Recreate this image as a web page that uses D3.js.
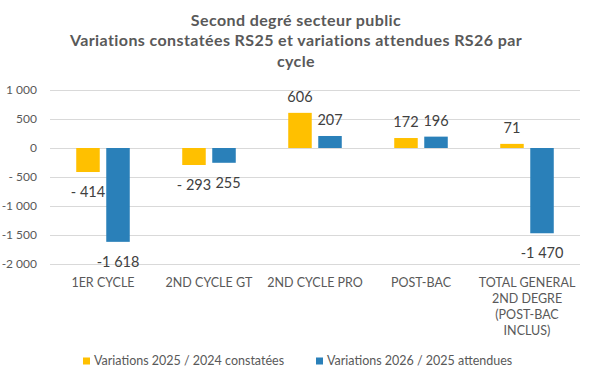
<!DOCTYPE html>
<html><head><meta charset="utf-8">
<script src="https://cdn.jsdelivr.net/npm/d3@7"></script>
<style>body{margin:0;background:#fff}svg{display:block}</style>
</head><body>
<script>
const categories = ["1ER CYCLE", "2ND CYCLE GT", "2ND CYCLE PRO", "POST-BAC", "TOTAL GENERAL 2ND DEGRE (POST-BAC INCLUS)"];
const categoryLines = [["1ER CYCLE"], ["2ND CYCLE GT"], ["2ND CYCLE PRO"], ["POST-BAC"], ["TOTAL GENERAL", "2ND DEGRE", "(POST-BAC", "INCLUS)"]];
const seriesNames = ["Variations 2025 / 2024 constatées", "Variations 2026 / 2025 attendues"];
const values2025 = [-414, -293, 606, 172, 71];
const values2026 = [-1618, -255, 207, 196, -1470];
const labels2025 = ["- 414", "- 293", "606", "172", "71"];
const labels2026 = ["-1 618", "255", "207", "196", "-1 470"];
const yTicks = [1000, 500, 0, -500, -1000, -1500, -2000];
const yTickLabels = ["1 000", "500", "0", "- 500", "-1 000", "-1 500", "-2 000"];
const titleLines = ["Second degré secteur public", "Variations constatées RS25 et variations attendues RS26 par", "cycle"];
const colors = ["#FFC000", "#2A80B9"];

const W = 594, H = 379;
const svg = d3.select("body").append("svg").attr("width", W).attr("height", H);
const font = "Lato, 'Open Sans', sans-serif";

// title
svg.append("g").selectAll("text").data(titleLines).join("text")
  .attr("x", 296).attr("y", (d, i) => 20 + i * 20.5).attr("dy", "0.35em")
  .attr("text-anchor", "middle").attr("font-family", font).attr("font-weight", "bold")
  .attr("font-size", 16).attr("letter-spacing", "0.4px").attr("fill", "#595959").text(d => d);

const y = d3.scaleLinear().domain([-2000, 1000]).range([264, 90]);
const x0 = d3.scaleBand().domain(categories).range([50, 580]).paddingInner(0.495).paddingOuter(0.2475);
const x1 = d3.scaleBand().domain([0, 1]).range([0, x0.bandwidth()]).paddingInner(0.2167);

// grid
const gy = svg.append("g").attr("transform", "translate(50,0)")
  .call(d3.axisLeft(y).tickValues(yTicks).tickSize(-530).tickPadding(13)
    .tickFormat((d, i) => yTickLabels[i]));
gy.select(".domain").remove();
gy.selectAll(".tick line").attr("stroke", "#d9d9d9").attr("stroke-width", 1);
gy.selectAll(".tick text").attr("font-family", font).attr("font-size", 12).attr("fill", "#595959");

const series = [values2025, values2026];
const labelSets = [labels2025, labels2026];
const data = [];
categories.forEach((c, i) => series.forEach((s, k) => data.push({c, k, v: s[i], label: labelSets[k][i]})));

svg.append("g").selectAll("rect").data(data).join("rect")
  .attr("x", d => x0(d.c) + x1(d.k))
  .attr("width", x1.bandwidth())
  .attr("y", d => y(Math.max(0, d.v)))
  .attr("height", d => Math.abs(y(d.v) - y(0)))
  .attr("fill", d => colors[d.k]);

svg.append("g").selectAll("text").data(data).join("text")
  .attr("x", d => x0(d.c) + x1(d.k) + x1.bandwidth() / 2 + (d.label === "255" ? 4 : 0))
  .attr("y", d => d.v >= 0 ? y(d.v) - 16 : y(d.v) + 20)
  .attr("dy", "0.35em").attr("text-anchor", "middle")
  .attr("font-family", font).attr("font-size", 14.5).attr("fill", "#404040")
  .text(d => d.label);

// category axis
const cat = svg.append("g").selectAll("text").data(categories).join("text")
  .attr("x", d => x0(d) + x0.bandwidth() / 2)
  .attr("y", 283).attr("text-anchor", "middle")
  .attr("font-family", font).attr("font-size", 12.5).attr("fill", "#595959");
cat.each(function(d, i) {
  d3.select(this).selectAll("tspan").data(categoryLines[i]).join("tspan")
    .attr("x", x0(d) + x0.bandwidth() / 2)
    .attr("dy", (t, j) => j === 0 ? "0.35em" : "16")
    .text(t => t);
});

// legend
const legX = [83, 316];
const lg = svg.append("g").selectAll("g").data(seriesNames).join("g")
  .attr("transform", (d, i) => `translate(${legX[i]},361)`);
lg.append("rect").attr("x", 0).attr("y", -3.5).attr("width", 7).attr("height", 7).attr("fill", (d, i) => colors[i]);
lg.append("text").attr("x", 11).attr("dy", "0.35em").attr("font-family", font).attr("font-size", 12.5)
  .attr("fill", "#595959").text(d => d);
</script>
</body></html>
